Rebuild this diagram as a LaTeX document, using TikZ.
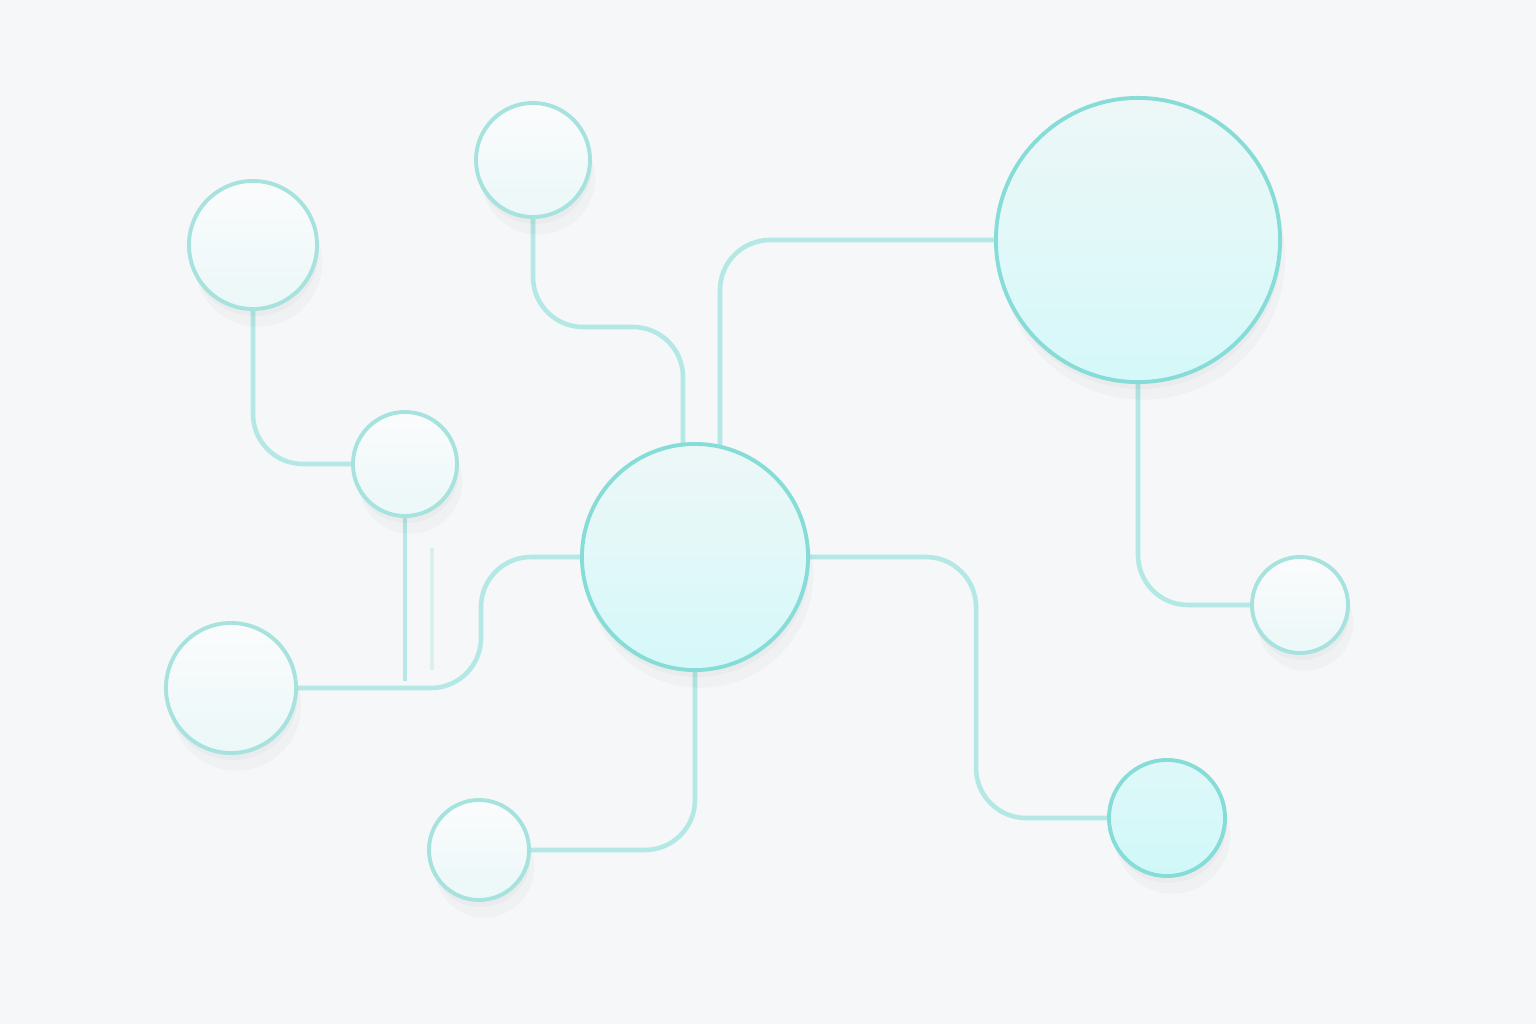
\documentclass[tikz,border=0pt]{standalone}
\usepackage{xcolor}
\usetikzlibrary{calc,shadows}

\definecolor{fondo}{HTML}{F5F7F8}
\definecolor{enlace}{HTML}{B4E8E5}
\definecolor{borde}{HTML}{A6E2DE}
\definecolor{bordefuerte}{HTML}{86DCD7}

\pgfdeclarelayer{atras}
\pgfsetlayers{atras,main}

\tikzset{
  burbuja/.style={circle, inner sep=0pt, draw=borde, line width=1.1pt,
    top color=white!60!fondo, bottom color=cyan!4!fondo,
    drop shadow={shadow xshift=1.5pt, shadow yshift=-5pt, opacity=0.025, fill=black},
    drop shadow={shadow xshift=0.5pt, shadow yshift=-2pt, opacity=0.025, fill=black}},
  burbujafuerte/.style={burbuja, draw=bordefuerte, top color=fondo!97!cyan, bottom color=cyan!13!fondo},
  enlace/.style={draw=enlace, line width=1.3pt, rounded corners=0.5cm},
  tenue/.style={draw=enlace!45!fondo, line width=1.3pt}
}

\begin{document}
\begin{tikzpicture}[x=0.01cm, y=-0.01cm]
      \begin{pgfonlayer}{atras}
        \fill[fondo] (0,0) rectangle (1536,1024);
      \end{pgfonlayer}
      \useasboundingbox (0,0) rectangle (1536,1024);

      % Nodos
      \node[burbuja, minimum size=1.28cm] (izq) at (253,245) {};
      \node[burbuja, minimum size=1.14cm] (arriba) at (533,160) {};
      \node[burbujafuerte, minimum size=2.84cm] (grande) at (1138,240) {};
      \node[burbujafuerte, minimum size=2.26cm] (centro) at (695,557) {};
      \node[burbuja, minimum size=1.04cm] (medio) at (405,464) {};
      \node[burbuja, minimum size=1.30cm] (lateral) at (231,688) {};
      \node[burbuja, minimum size=1.00cm] (abajo) at (479,850) {};
      \node[burbuja, minimum size=0.96cm] (derecha) at (1300,605) {};
      \node[burbujafuerte, minimum size=1.16cm, top color=cyan!9!fondo, bottom color=cyan!15!fondo] (final) at (1167,818) {};

      % Enlaces
      \begin{pgfonlayer}{atras}
        \draw[enlace] (izq.south) |- (medio.west);
        \draw[enlace] (arriba.south) |- ($(centro.north)+(-12,-115)$) -- ($(centro.north)+(-12,10)$);
        \draw[enlace] ($(centro.north)+(25,10)$) |- (grande.west);
        \draw[enlace] (medio.south) -- ++(0,163);
        \draw[tenue] (432,548) -- (432,670);
        \draw[enlace] (lateral.east) -| ($(centro.west)+(-99,0)$) -- (centro.west);
        \draw[enlace] (centro.south) |- (abajo.east);
        \draw[enlace] (centro.east) -| ($(final.west)+(-131,0)$) -- (final.west);
        \draw[enlace] (grande.south) |- (derecha.west);
      \end{pgfonlayer}
\end{tikzpicture}
\end{document}
